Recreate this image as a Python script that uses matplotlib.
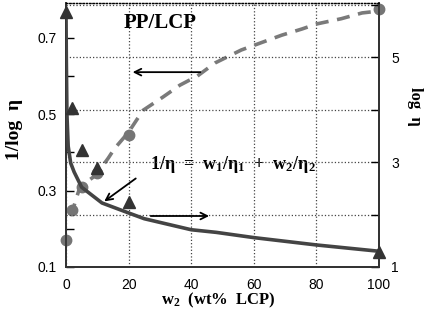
import numpy as np
import matplotlib
matplotlib.use("Agg")
import matplotlib.pyplot as plt

plt.rcParams["font.family"] = ["Liberation Sans", "DejaVu Sans"]
plt.rcParams["mathtext.default"] = "regular"

# measured points
w_meas = [0, 2, 5, 10, 20, 100]
log_eta_meas = [5.86, 4.03, 3.23, 2.88, 2.24, 1.29]
inv_log_meas = [0.171, 0.248, 0.310, 0.347, 0.446, 0.775]

# additivity rule curve (log eta, right axis)
w_rule = [0, 0.1, 0.3, 0.7, 1.5, 2.6, 5, 11.5, 20, 25, 40, 48, 60, 80, 100]
log_eta_rule = [5.86, 5.0, 3.9, 3.3, 2.98, 2.81, 2.52, 2.22, 2.03, 1.92, 1.71, 1.66, 1.56, 1.42, 1.30]

# dashed curve (1/log eta, left axis)
w_dash = [1.2, 2, 3.5, 4.5, 9.5, 13.5, 15.5, 20, 24.6, 31, 36.4, 42, 47.6, 56, 60, 69, 75.4, 80, 88, 94.6, 100]
inv_log_dash = [0.235, 0.245, 0.285, 0.31, 0.34, 0.385, 0.41, 0.453, 0.51, 0.545, 0.576, 0.60, 0.634,
                0.668, 0.68, 0.707, 0.723, 0.736, 0.75, 0.765, 0.77]

serif = ["Liberation Serif", "DejaVu Serif"]

fig = plt.figure(figsize=(4.3, 3.14), dpi=100)
ax = fig.add_axes([66 / 430, 1 - 267 / 314, 313 / 430, 264 / 314])
ax2 = ax.twinx()

ax.set_xlim(0, 100)
ax.set_ylim(0.1, 0.791)
ax2.set_ylim(1, 6.03)

# left axis: dashed + circles
ax.plot(w_dash, inv_log_dash, color="#7a7a7a", lw=2.6, dashes=(3.6, 2.4), zorder=3)
ax.plot(w_meas, inv_log_meas, "o", color="#757575", ms=7.5, clip_on=False, zorder=4)

# right axis: solid + triangles
ax2.plot(w_rule, log_eta_rule, color="#444444", lw=2.6, zorder=3)
ax2.plot(w_meas, log_eta_meas, "^", color="#333333", ms=8.5, clip_on=False, zorder=4)

# ticks
ax.set_xticks([0, 20, 40, 60, 80, 100])
ax.set_yticks([0.1, 0.3, 0.5, 0.7])
ax.set_yticks([0.2, 0.4, 0.6], minor=True)
ax2.set_yticks([1, 3, 5])
ax2.set_yticks([2, 4, 6], minor=True)
ax.tick_params(axis="both", which="both", direction="in", length=6, width=1, labelsize=10, pad=7)
ax.tick_params(axis="x", length=0, pad=8)
ax2.tick_params(axis="y", which="both", direction="in", length=6, width=1, labelsize=10, pad=9)
ax.set_yticklabels(["0.1", "0.3", "0.5", "0.7"])

# grid
ax.xaxis.grid(True, linestyle=":", color="#444444", lw=0.9)
ax2.yaxis.grid(True, which="both", linestyle=":", color="#444444", lw=0.9)
for a in (ax, ax2):
    a.spines["top"].set_linestyle(":")
    a.spines["top"].set_linewidth(0.9)
    for s in ("left", "right", "bottom"):
        a.spines[s].set_linewidth(1.3)
        a.spines[s].set_color("#333333")

# labels
ax.set_ylabel("1/log  η", fontfamily=serif, fontweight="bold", fontsize=14, va="center")
ax.yaxis.set_label_coords(-0.166, 0.52)
ax2.set_ylabel("log  η", fontfamily=serif, fontweight="bold", fontsize=12, rotation=270, va="center")
ax2.yaxis.set_label_coords(1.115, 0.61)
ax.set_xlabel("w$_2$  (wt%  LCP)", fontfamily=serif, fontweight="bold", fontsize=12, va="center")
ax.xaxis.set_label_coords(0.486, -0.128)

# annotations
ax.text(30, 0.739, "PP/LCP", fontfamily=serif, fontweight="bold", fontsize=15,
        ha="center", va="center")
ax.text(26.8, 0.367, "1/η  =  w$_1$/η$_1$  +  w$_2$/η$_2$", fontfamily=serif,
        fontweight="bold", fontsize=13, ha="left", va="center")

arrow = dict(arrowstyle="->", color="black", lw=1.3, mutation_scale=12)
ax2.annotate("", xy=(20.4, 0.61), xytext=(43.8, 0.61), xycoords=ax.transData,
             textcoords=ax.transData, arrowprops=arrow)
ax2.annotate("", xy=(46.6, 0.2335), xytext=(26.2, 0.2335), xycoords=ax.transData,
             textcoords=ax.transData, arrowprops=arrow)
ax2.annotate("", xy=(11.5, 0.2675), xytext=(23.0, 0.336), xycoords=ax.transData,
             textcoords=ax.transData, arrowprops=arrow)

fig.savefig("out.png", dpi=100)
